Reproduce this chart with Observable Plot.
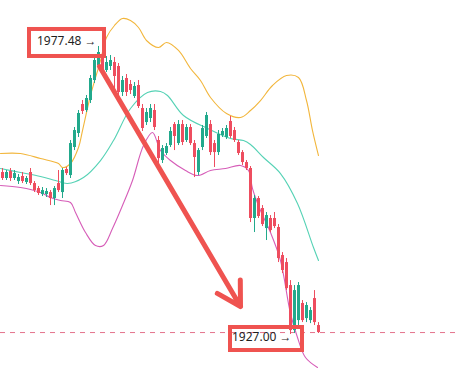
<!DOCTYPE html>
<html><head><meta charset="utf-8">
<script src="https://cdn.jsdelivr.net/npm/d3@7"></script>
<script src="https://cdn.jsdelivr.net/npm/@observablehq/plot@0.6"></script>
<style>html,body{margin:0;padding:0;background:#fff;} #chart svg{display:block}</style>
</head><body><div id="chart"></div>
<script>
// OHLC candles (index 0..79)
const open = [1955.39,1954.34,1955.56,1954.34,1953.81,1954.69,1953.64,1955.39,1953.46,1952.58,
1951.53,1951.53,1951.88,1950.83,1953.46,1951.88,1955.92,1954.86,1959.77,1962.23,
1967.31,1966.26,1968.01,1971.52,1974.15,1975.90,1973.27,1973.97,1974.67,1973.97,
1969.41,1971.87,1970.82,1968.71,1970.64,1966.61,1964.15,1964.86,1966.26,1961.00,
1957.49,1958.72,1960.12,1963.80,1960.47,1963.80,1961.00,1963.28,1960.47,1955.39,
1959.77,1961.70,1963.80,1960.47,1958.89,1961.88,1961.53,1964.33,1962.75,1960.65,
1958.89,1957.14,1956.09,1947.33,1950.83,1949.08,1945.57,1947.33,1947.33,1945.75,
1940.84,1939.61,1935.58,1927.69,1929.44,1932.43,1929.79,1929.44,1933.30,1928.57];
const close = [1954.34,1955.39,1954.34,1955.21,1954.51,1953.81,1954.34,1953.46,1952.23,1951.71,
1952.23,1952.06,1950.83,1952.58,1952.23,1955.74,1955.21,1960.47,1962.75,1965.73,
1966.08,1968.36,1971.87,1975.02,1976.43,1973.27,1974.67,1975.02,1972.22,1969.41,
1971.52,1969.41,1969.76,1970.47,1966.96,1963.10,1965.91,1966.61,1963.28,1957.84,
1959.60,1959.95,1962.58,1961.70,1963.80,1960.65,1963.28,1960.47,1958.02,1959.24,
1963.10,1965.38,1958.89,1958.89,1962.05,1962.58,1963.10,1961.70,1961.00,1958.72,
1957.14,1956.09,1947.33,1950.83,1947.68,1946.27,1947.85,1945.22,1945.92,1940.31,
1938.21,1935.05,1927.69,1934.70,1935.58,1929.44,1932.08,1931.20,1929.09,1927.34];
const high = [1956.09,1955.74,1956.09,1955.74,1955.04,1955.39,1954.69,1956.09,1953.81,1952.94,
1952.76,1952.58,1952.23,1952.94,1955.74,1956.09,1956.27,1961.00,1963.28,1966.26,
1968.01,1968.89,1972.39,1975.72,1977.48,1977.13,1975.72,1975.90,1975.55,1974.50,
1972.22,1972.57,1971.52,1971.17,1971.52,1967.31,1966.61,1967.31,1967.31,1961.70,
1960.12,1960.47,1963.28,1964.15,1964.50,1964.50,1963.80,1963.80,1961.00,1959.60,
1963.63,1965.91,1964.50,1961.00,1962.75,1963.10,1963.63,1965.21,1963.28,1961.00,
1959.24,1957.49,1956.44,1951.36,1951.18,1949.60,1948.38,1947.85,1948.38,1946.27,
1941.36,1940.31,1936.45,1935.58,1936.11,1932.95,1932.60,1931.72,1934.70,1929.09];
const low = [1953.99,1953.99,1953.81,1953.99,1953.29,1953.46,1953.29,1953.11,1951.88,1951.36,
1951.18,1951.01,1949.60,1949.60,1951.88,1950.83,1954.86,1954.34,1959.24,1961.53,
1965.56,1965.91,1967.48,1970.99,1973.62,1972.39,1972.92,1973.27,1969.24,1968.89,
1968.71,1968.71,1969.06,1968.36,1966.61,1962.58,1963.63,1964.15,1962.75,1956.62,
1956.97,1958.37,1959.77,1959.24,1960.12,1960.12,1960.65,1960.12,1954.51,1954.86,
1959.24,1961.35,1958.37,1956.27,1958.37,1961.53,1961.17,1961.35,1960.65,1958.37,
1956.62,1955.74,1946.62,1944.87,1947.33,1945.92,1943.47,1944.87,1945.57,1939.61,
1937.68,1934.70,1927.00,1927.17,1928.57,1929.09,1929.09,1928.91,1928.57,1927.17];

// Bollinger bands, read at candle positions
const upperIdx = [-0.5,4.5,9.5,14,15,17,19,20,22,24.5,26,28,30,32,34,36,39,41,44,47,49.5,52,56,59.5,62,64.5,67.5,71,74,76,77.5,79];
const upperVal = [1958.72,1958.72,1957.84,1956.97,1956.27,1956.97,1959.77,1962.75,1968.89,1975.02,1979.05,1981.16,1982.38,1982.03,1980.81,1978.53,1977.30,1978.18,1976.78,1973.62,1971.52,1968.54,1965.73,1965.03,1966.26,1968.01,1970.64,1972.39,1972.04,1968.01,1962.75,1958.37];
const middleIdx = [-0.5,4.5,9.5,13.25,16.25,20.25,24.5,27.75,32,36.25,39.5,41.25,45.25,51.25,57,60.25,62,65.25,69.5,73.75,77.75,79];
const middleVal = [1956.09,1955.39,1954.69,1953.99,1953.46,1954.51,1957.49,1961.00,1966.61,1969.41,1969.59,1968.89,1965.38,1963.10,1961.35,1961.00,1960.30,1958.02,1955.21,1949.96,1942.24,1939.96];
const lowerIdx = [-0.5,4.5,9.5,12,14.5,17,18.25,20.75,23.25,25.25,27.5,30,32.5,35.25,37.5,39.5,42,45.75,48.75,52,55.75,59.5,61.5,62.5,64.5,67,69.5,72,73.75,75.75,78.75];
const lowerVal = [1953.11,1952.76,1951.88,1951.01,1950.48,1950.13,1948.38,1944.87,1942.59,1942.59,1945.57,1949.60,1953.99,1960.12,1962.40,1959.24,1957.49,1955.74,1954.86,1955.74,1956.09,1956.62,1955.74,1952.58,1948.73,1944.87,1939.96,1930.67,1926.47,1922.96,1921.21];

// Annotations
const highIndex = 24, highPrice = 1977.48, highLabel = "1977.48 →";
const lowIndex = 72, lowPrice = 1927.00, lowLabel = "1927.00 →";
const arrowFrom = {i: 24.25, price: 1973.97};
const arrowTo = {i: 59.5, price: 1931.90};

const GREEN = "#22a98c", RED = "#ee4d5f", BOX = "#ef5350";

const candles = open.map((o, i) => ({i, open: o, close: close[i], high: high[i], low: low[i]}));
const ups = candles.filter(d => d.close >= d.open);
const downs = candles.filter(d => d.close < d.open);
const band = (idx, val) => idx.map((i, k) => ({i, v: val[k]}));

const chart = Plot.plot({
  width: 457, height: 370, margin: 0,
  x: {domain: [-0.5, 113.75], axis: null},
  y: {domain: [1920.69, 1985.54], axis: null},
  marks: [
    Plot.ruleY([close[close.length - 1]], {stroke: "#e4738c", strokeDasharray: "5,5", strokeWidth: 1}),
    Plot.line(band(upperIdx, upperVal), {x: "i", y: "v", stroke: "#f2b63c", strokeWidth: 1.1, curve: "catmull-rom"}),
    Plot.line(band(middleIdx, middleVal), {x: "i", y: "v", stroke: "#55d2b5", strokeWidth: 1.1, curve: "catmull-rom"}),
    Plot.line(band(lowerIdx, lowerVal), {x: "i", y: "v", stroke: "#d65db8", strokeWidth: 1.1, curve: "catmull-rom"}),
    Plot.ruleX(ups, {x: "i", y1: "low", y2: "high", stroke: GREEN, strokeWidth: 1}),
    Plot.ruleX(ups, {x: "i", y1: "open", y2: "close", stroke: GREEN, strokeWidth: 3}),
    Plot.ruleX(downs, {x: "i", y1: "low", y2: "high", stroke: RED, strokeWidth: 1}),
    Plot.ruleX(downs, {x: "i", y1: "open", y2: "close", stroke: RED, strokeWidth: 3}),
    Plot.arrow([{}], {x1: () => arrowFrom.i, y1: () => arrowFrom.price, x2: () => arrowTo.i, y2: () => arrowTo.price, stroke: BOX, strokeWidth: 5})
  ]
});
document.getElementById("chart").appendChild(chart);

// label boxes, positioned through the plot's own scales
const sx = chart.scale("x"), sy = chart.scale("y");
const svg = d3.select(chart);
function label(i, price, text, box, tdx, tdy) {
  const px = sx.apply(i), py = sy.apply(price);
  const g = svg.append("g");
  g.append("rect").attr("x", px + box[0]).attr("y", py + box[1]).attr("width", box[2]).attr("height", box[3])
    .attr("fill", "none").attr("stroke", BOX).attr("stroke-width", 4);
  g.append("text").attr("x", px + tdx).attr("y", py + tdy).attr("dominant-baseline", "middle")
    .attr("text-anchor", "start")
    .attr("font-family", "'Noto Sans', sans-serif").attr("font-size", 12).attr("fill", "#1f1f1f").text(text);
}
label(highIndex, highPrice, highLabel, [-69, -17, 75, 27], -61, -4);
label(lowIndex, lowPrice, lowLabel, [-60, -7, 72, 23], -58, 4);
</script>
</body></html>
